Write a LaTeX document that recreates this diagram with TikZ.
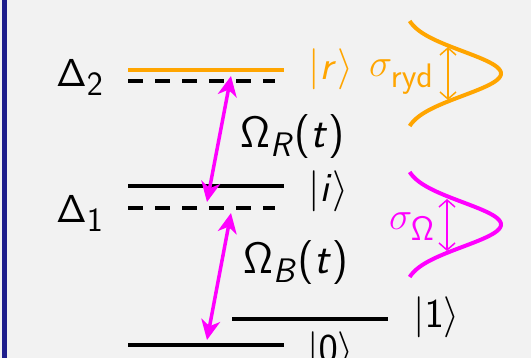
\RequirePackage{fix-cm}
\documentclass[tikz,border=0pt]{standalone}
\usetikzlibrary{arrows.meta}
\DeclareMathAlphabet{\mathssf}{OT1}{cmss}{m}{n}
\DeclareMathAlphabet{\mathssl}{OT1}{cmss}{m}{sl}
\DeclareMathSizes{44}{44}{34}{27}
\DeclareMathSizes{39}{39}{34}{26}
\DeclareMathSizes{41}{41}{32}{26}
\newcommand\lpar{\mathopen{\mathchar"7028}}
\newcommand\rpar{\mathclose{\mathchar"7029}}
\definecolor{bg}{HTML}{F2F2F2}
\definecolor{myorange}{HTML}{FFA500}
\definecolor{mymag}{HTML}{FF00FF}
\definecolor{myblue}{HTML}{1E1E8C}
\begin{document}
\begin{tikzpicture}[x=1pt,y=-1pt,
  lbl/.style={inner sep=0pt, anchor=base west, font=\fontsize{41}{48}\selectfont},
  big/.style={font=\fontsize{44}{50}\selectfont},
  dlt/.style={font=\fontsize{39}{44}\selectfont},
  level/.style={line width=3.5pt},
  dlevel/.style={line width=3.5pt, dash pattern=on 15pt off 12pt},
  trans/.style={mymag, line width=3.5pt, {Stealth[length=20pt,width=19pt,inset=6pt]}-{Stealth[length=20pt,width=19pt,inset=6pt]}},
  gauss/.style={line width=4pt},
  sig/.style={line width=1.5pt, {Straight Barb[length=7pt,width=16pt]}-{Straight Barb[length=7pt,width=16pt]}}]
\fill[bg] (0,0) rectangle (531,358);
\useasboundingbox (0,0) rectangle (531,358);
\fill[myblue] (2,0) rectangle (7,358);
% levels
\draw[level, myorange] (128,70) coordinate (rL) -- (284,70) coordinate (rR);
\draw[dlevel] (128,81) coordinate (d2L) -- (275,81) coordinate (d2R);
\draw[level] (128,186) coordinate (iL) -- (284,186) coordinate (iR);
\draw[dlevel] (128,208) coordinate (d1L) -- (275,208) coordinate (d1R);
\draw[level] (232,319) coordinate (oneL) -- (388,319) coordinate (oneR);
\draw[level] (128,345) coordinate (zeroL) -- (284,345) coordinate (zeroR);
% transitions
\coordinate (aT) at (231,76);
\coordinate (aB) at (207,202);
\coordinate (bT) at (231,213);
\coordinate (bB) at (207,340);
\draw[trans] (aT) -- (aB);
\draw[trans] (bT) -- (bB);
% labels
\node[lbl, dlt] (D2) at (56,87) {$\mathssf{\Delta_2}$};
\node[lbl, dlt] (D1) at (56,223) {$\mathssf{\Delta_1}$};
\node[lbl, myorange] (kr) at (308,80) {$|\mathssl{r}\rangle$};
\node[lbl] (ki) at (308,202) {$|\mathssl{i}\rangle$};
\node[lbl] (k1) at (413,328) {$|\mathssf{1}\rangle$};
\node[lbl] (k0) at (307,363) {$|\mathssf{0}\rangle$};
\node[lbl, big] (OR) at (240,148) {$\mathssf{\Omega}_{\mathssl{R}}\mathssf{\lpar}\mathssl{t}\mathssf{\rpar}$};
\node[lbl, big] (OB) at (243,274) {$\mathssf{\Omega}_{\mathssl{B}}\mathssf{\lpar}\mathssl{t}\mathssf{\rpar}$};
\node[lbl, dlt, myorange] (sr) at (369,77) {$\sigma_{\mathssf{ryd}}$};
\node[lbl, dlt, mymag] (so) at (389,230) {$\sigma_{\mathssf{\Omega}}$};
% gaussians
\draw[gauss, myorange] plot[domain=-52.5:52.5, samples=80, smooth] ({403.6+97.4*exp(-((\x)*(\x))/994.6)},{73.5+\x});
\draw[gauss, mymag] plot[domain=-52.5:52.5, samples=80, smooth] ({403.6+97.4*exp(-((\x)*(\x))/994.6)},{224.5+\x});
\coordinate (srT) at (448,47);
\coordinate (srB) at (448,100);
\coordinate (soT) at (447,199);
\coordinate (soB) at (447,251);
\draw[sig, myorange] (srT) -- (srB);
\draw[sig, mymag] (soT) -- (soB);
\end{tikzpicture}
\end{document}
